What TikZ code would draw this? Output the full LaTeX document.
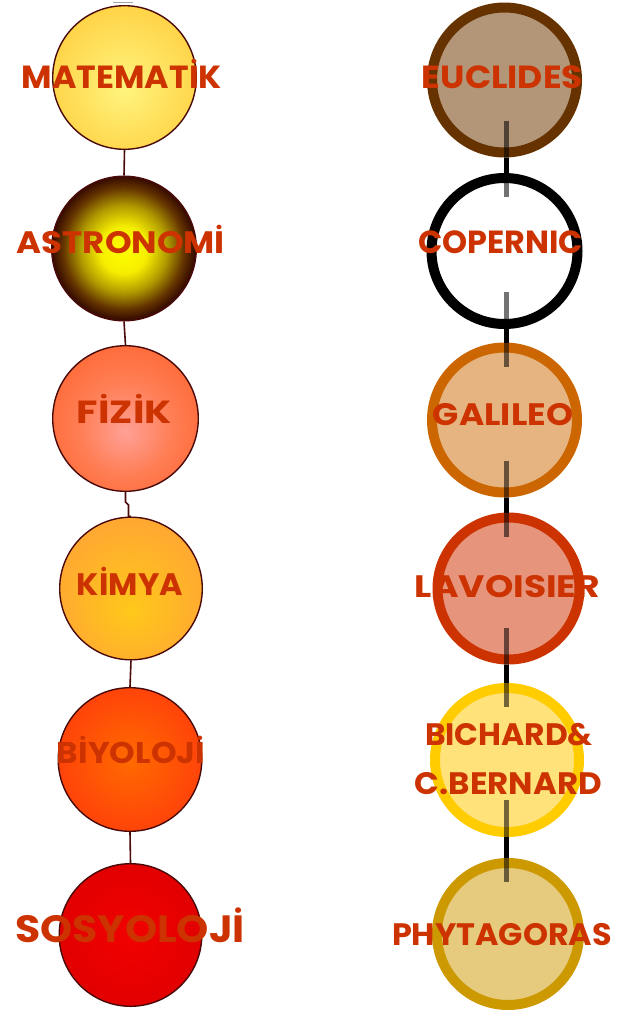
\documentclass[tikz,border=0pt]{standalone}
\usepackage{fontspec}
\usepackage{graphicx}
\usetikzlibrary{calc}
\newfontfamily\lbl{Poppins}[UprightFont=* Bold]
\definecolor{txt}{HTML}{CC3300}
\definecolor{lborder}{HTML}{4A0A0A}
% left gradients
\definecolor{mA}{HTML}{FFF47E}\definecolor{mB}{HTML}{FFC42C}
\definecolor{aA}{HTML}{FFFF00}\definecolor{aM}{HTML}{F6EE00}\definecolor{aN}{HTML}{B09A00}\definecolor{aO}{HTML}{643400}\definecolor{aB}{HTML}{3A0E00}
\definecolor{fA}{HTML}{FFA095}\definecolor{fM}{HTML}{FF7E55}\definecolor{fB}{HTML}{FF6530}
\definecolor{kA}{HTML}{FFC81A}\definecolor{kB}{HTML}{FF9A3C}
\definecolor{bA}{HTML}{FF6A00}\definecolor{bB}{HTML}{FF2A10}
\definecolor{sA}{HTML}{F20000}\definecolor{sB}{HTML}{D40000}
% right colours
\definecolor{eR}{HTML}{663300}\definecolor{eF}{HTML}{B39578}
\definecolor{gR}{HTML}{CC6600}\definecolor{gF}{HTML}{E6B480}
\definecolor{lR}{HTML}{CC3300}\definecolor{lF}{HTML}{E6957C}
\definecolor{bR}{HTML}{FFCC00}\definecolor{bF}{HTML}{FFE27A}
\definecolor{pR}{HTML}{CC9900}\definecolor{pF}{HTML}{E6CA7E}
\pgfdeclareradialshading{shM}{\pgfpoint{0bp}{-4bp}}{color(0bp)=(mA); color(40bp)=(mB); color(50bp)=(mB)}
\pgfdeclareradialshading{shF}{\pgfpoint{0bp}{-5bp}}{color(0bp)=(fA); color(16bp)=(fM); color(32bp)=(fB); color(50bp)=(fB)}
\pgfdeclareradialshading{shK}{\pgfpoint{0bp}{-8bp}}{color(0bp)=(kA); color(40bp)=(kB); color(50bp)=(kB)}
\pgfdeclareradialshading{shB}{\pgfpoint{0bp}{0bp}}{color(0bp)=(bA); color(42bp)=(bB); color(50bp)=(bB)}
\pgfdeclareradialshading{shS}{\pgfpoint{0bp}{0bp}}{color(0bp)=(sA); color(45bp)=(sB); color(50bp)=(sB)}
\newcommand\fitw[3]{\resizebox{#1pt}{\height}{\fontsize{#2}{#2}\selectfont #3}}
\tikzset{
  lball/.style={circle, inner sep=0pt, draw=lborder, line width=1.4pt, shading=#1},
  lplain/.style={circle, inner sep=0pt, draw=lborder, line width=1.4pt, fill=#1},
  rball/.style n args={2}{circle, inner sep=0pt, draw=#1, fill=#2, line width=10pt},
  lconn/.style={draw=lborder, line width=1.6pt},
  rconn/.style={draw=black, line width=5pt},
  rinner/.style={draw=black, line width=5pt, opacity=0.55},
  lab/.style={anchor=base, inner sep=0pt, text=txt, font=\lbl}
}
\begin{document}
\begin{tikzpicture}[x=1pt,y=-1pt]
\useasboundingbox (0,0) rectangle (619,1010);
\fill[white] (0,0) rectangle (619,1010);
\draw[gray!70, line width=1pt] (113,2) -- (133,2);
% left column
\node[lball=shM, minimum size=143.6pt] (M) at (124.5,77.5) {};
\node[lplain=aB, minimum size=144.6pt] (A) at (124,248.5) {};
\foreach \i in {0,...,59}{
  \pgfmathsetmacro\t{1-\i/60}
  \ifdim\t pt>0.86pt
    \pgfmathsetmacro\p{(1-\t)/0.14*100}\colorlet{cur}{aO!\p!aB}
  \else\ifdim\t pt>0.62pt
    \pgfmathsetmacro\p{(0.86-\t)/0.24*100}\colorlet{cur}{aN!\p!aO}
  \else\ifdim\t pt>0.34pt
    \pgfmathsetmacro\p{(0.62-\t)/0.28*100}\colorlet{cur}{aM!\p!aN}
  \else
    \pgfmathsetmacro\p{(0.34-\t)/0.34*100}\colorlet{cur}{aA!\p!aM}
  \fi\fi\fi
  \fill[cur] ($(A.center)+(0,{2.5*(1-\t)})$) circle[radius={\t*71.4pt}];
}
\node[lball=shF, minimum size=145.6pt] (F) at (125.5,418.5) {};
\node[lball=shK, minimum size=142.6pt] (K) at (131,588.5) {};
\node[lball=shB, minimum size=143.6pt] (B) at (130,759.5) {};
\node[lball=shS, minimum size=142.6pt] (S) at (130.5,935) {};
\draw[lconn] (M.south) -- (A.north);
\draw[lconn] (A.south) -- (F.north);
\draw[lconn] (F.south) -- ++(0,10) -- ++(3,3) |- (K.north);
\draw[lconn] (K.south) -- (B.north);
\draw[lconn] (B.south) -- (S.north);
% right column
\coordinate (lx) at (506,0);
\node[rball={eR}{eF}, minimum size=145pt] (E) at (504.5,80) {};
\node[rball={black}{white}, minimum size=146pt] (C) at (504.5,251) {};
\node[rball={gR}{gF}, minimum size=145pt] (G) at (504.5,420) {};
\node[rball={lR}{lF}, minimum size=142pt] (L) at (508.5,588.5) {};
\node[rball={bR}{bF}, minimum size=144pt] (BC) at (507,760) {};
\node[rball={pR}{pF}, minimum size=142pt] (P) at (508,934) {};
\foreach \u/\l in {E/C, C/G, G/L, L/BC, BC/P}{
  \draw[rinner] ([yshift=37pt]\u.south -| lx) -- (\u.south -| lx);
  \draw[rconn] (\u.south -| lx) -- (\l.north -| lx);
  \draw[rinner] (\l.north -| lx) -- ([yshift=-24pt]\l.north -| lx);
}
% labels
\node[lab] (tM) at (122,88) {\fitw{200}{32}{MATEMATİK}};
\node[lab] (tA) at (121,253) {\fitw{208}{31}{ASTRONOMİ}};
\node[lab] (tF) at (124.5,423) {\fitw{95}{32}{FİZİK}};
\node[lab] (tK) at (130,595) {\fitw{106}{31}{KİMYA}};
\node[lab] (tB) at (131,763) {\fitw{148}{30}{BİYOLOJİ}};
\node[lab] (tS) at (130,942) {\fitw{230}{38}{SOSYOLOJİ}};
\node[lab] (tE) at (502.5,88) {\fitw{161}{32}{EUCLIDES}};
\node[lab] (tC) at (500.5,253) {\fitw{165}{32}{COPERNIC}};
\node[lab] (tG) at (503,425) {\fitw{140}{31}{GALILEO}};
\node[lab] (tL) at (507.5,597) {\fitw{185}{31}{LAVOISIER}};
\node[lab] (tB1) at (509,745) {\fitw{168}{31}{BICHARD\&}};
\node[lab] (tB2) at (508.5,794) {\fitw{187}{31}{C.BERNARD}};
\node[lab] (tP) at (502,945) {\fitw{220}{31}{PHYTAGORAS}};
\end{tikzpicture}
\end{document}
